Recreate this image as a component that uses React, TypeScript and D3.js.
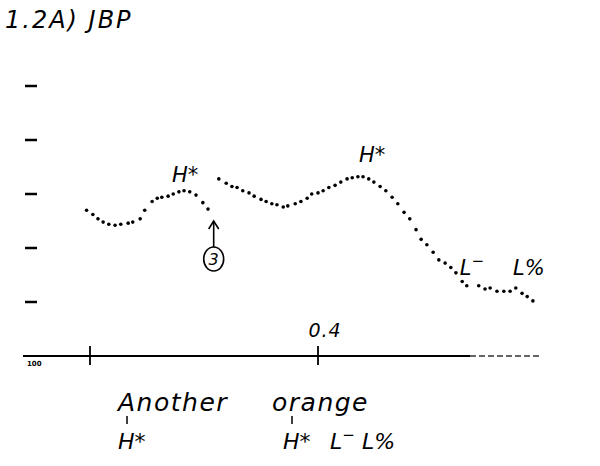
import React, { useEffect, useRef } from "react";
import * as d3 from "d3";

// pitch track (time in s, f0 in Hz)
const seg1Time = [-0.006, 0.005, 0.014, 0.023, 0.033, 0.044, 0.054, 0.067, 0.075, 0.088, 0.096, 0.109, 0.118, 0.126, 0.137, 0.146, 0.156, 0.165, 0.175, 0.186, 0.198, 0.207];
const seg1Hz = [235, 231, 227, 224, 222, 221, 222, 223, 224, 227, 235, 243, 246, 247, 248, 250, 252, 253, 252, 249, 242, 236];

const seg2Time = [0.226, 0.239, 0.249, 0.258, 0.268, 0.279, 0.288, 0.3, 0.309, 0.319, 0.328, 0.339, 0.347, 0.36, 0.37, 0.381, 0.389, 0.4, 0.409, 0.419, 0.43, 0.44, 0.451, 0.46, 0.47, 0.479, 0.489, 0.498, 0.509, 0.519, 0.53, 0.54, 0.551, 0.561, 0.572, 0.581, 0.591, 0.602, 0.612, 0.623, 0.633, 0.642, 0.653, 0.661];
const seg2Hz = [264, 260, 257, 256, 253, 251, 248, 245, 243, 241, 240, 238, 239, 241, 243, 246, 250, 251, 253, 256, 258, 261, 264, 265, 266, 266, 264, 261, 257, 253, 247, 241, 233, 227, 217, 208, 203, 196, 189, 186, 182, 177, 169, 165];

const seg3Time = [0.682, 0.693, 0.702, 0.714, 0.726, 0.737, 0.747, 0.758, 0.767, 0.777];
const seg3Hz = [165, 162, 163, 160, 160, 160, 163, 158, 155, 151];

const yTicks = [150, 200, 250, 300, 350];
const xTicks = [0, 0.4];
const xTickLabels = ["", "0.4"];

// tone labels placed over the track (time, Hz)
const toneText = ["H*", "H*", "L", "L%"];
const toneTime = [0.167, 0.495, 0.67, 0.77];
const toneHz = [261, 280, 175, 175];

const words = ["Another", "orange"];
const wordX = [118, 272];
const tierText = ["H*", "H*", "L", "L%"];
const tierX = [118, 283, 330, 362];

const App: React.FC = () => {
  const svgRef = useRef<SVGSVGElement | null>(null);

  useEffect(() => {
    if (!svgRef.current) return;
    const svg = d3.select(svgRef.current);
    svg.selectAll("*").remove();

    const x = d3.scaleLinear().domain([0, 0.4]).range([90, 318]);
    const y = d3.scaleLinear().domain([100, 350]).range([356, 86]);
    const hand = "'DejaVu Sans', sans-serif";

    svg.append("rect").attr("width", 600).attr("height", 466).attr("fill", "#fff");

    svg
      .append("text")
      .attr("x", 5)
      .attr("y", 28)
      .attr("font-family", hand)
      .attr("font-style", "italic")
      .attr("font-size", 24)
      .attr("letter-spacing", 2)
      .text("1.2A) JBP");

    // pitch ticks
    svg
      .selectAll(".yt")
      .data(yTicks)
      .enter()
      .append("line")
      .attr("x1", 25)
      .attr("x2", 37)
      .attr("y1", (d) => y(d))
      .attr("y2", (d) => y(d))
      .attr("stroke", "#000")
      .attr("stroke-width", 2.5);

    svg
      .append("text")
      .attr("x", 27)
      .attr("y", y(100) + 10)
      .attr("font-family", hand)
      .attr("font-weight", "bold")
      .attr("font-size", 7)
      .text("100");

    // time axis
    svg
      .append("line")
      .attr("x1", 23)
      .attr("x2", 470)
      .attr("y1", y(100))
      .attr("y2", y(100))
      .attr("stroke", "#000")
      .attr("stroke-width", 2);
    svg
      .append("line")
      .attr("x1", 470)
      .attr("x2", 542)
      .attr("y1", y(100))
      .attr("y2", y(100))
      .attr("stroke", "#333")
      .attr("stroke-width", 1.5)
      .attr("stroke-dasharray", "6,3");

    svg
      .selectAll(".xt")
      .data(xTicks)
      .enter()
      .append("line")
      .attr("x1", (d) => x(d))
      .attr("x2", (d) => x(d))
      .attr("y1", y(100) - 10)
      .attr("y2", y(100) + 9)
      .attr("stroke", "#000")
      .attr("stroke-width", 1.8);

    svg
      .selectAll(".xl")
      .data(xTicks)
      .enter()
      .append("text")
      .attr("x", (d) => x(d) + 7)
      .attr("y", y(100) - 19)
      .attr("text-anchor", "middle")
      .attr("font-family", hand)
      .attr("font-style", "italic")
      .attr("font-size", 19)
      .attr("letter-spacing", 1)
      .text((d, i) => xTickLabels[i]);

    // dotted pitch track
    const segs = [
      [seg1Time, seg1Hz],
      [seg2Time, seg2Hz],
      [seg3Time, seg3Hz],
    ];
    segs.forEach(([ts, hz]) => {
      svg
        .append("g")
        .selectAll("circle")
        .data(ts)
        .enter()
        .append("circle")
        .attr("cx", (d) => x(d))
        .attr("cy", (d, i) => y(hz[i]))
        .attr("r", 1.8)
        .attr("fill", "#000");
    });

    // tone labels on the track
    const tones = svg.append("g");
    toneText.forEach((t, i) => {
      const tx = tones
        .append("text")
        .attr("x", x(toneTime[i]))
        .attr("y", y(toneHz[i]))
        .attr("text-anchor", "middle")
        .attr("font-family", hand)
        .attr("font-style", "italic")
        .attr("font-size", 21)
        .text(t);
      if (t === "L") tx.append("tspan").attr("dy", -9).attr("font-size", 15).text("\u2212");
    });

    // circled 3 with arrow
    const cx = x(0.217);
    svg.append("ellipse").attr("cx", cx).attr("cy", 259).attr("rx", 10).attr("ry", 12).attr("fill", "none").attr("stroke", "#000").attr("stroke-width", 1.6);
    svg.append("text").attr("x", cx).attr("y", 265).attr("text-anchor", "middle").attr("font-family", hand).attr("font-style", "italic").attr("font-size", 16).text("3");
    svg.append("line").attr("x1", cx).attr("x2", cx).attr("y1", 247).attr("y2", 221).attr("stroke", "#000").attr("stroke-width", 1.6);
    svg.append("path").attr("d", `M${cx - 5},${229} L${cx},${221} L${cx + 5},${229}`).attr("fill", "none").attr("stroke", "#000").attr("stroke-width", 1.6);

    // words and tone tier
    words.forEach((w, i) => {
      svg
        .append("text")
        .attr("x", wordX[i])
        .attr("y", 411)
        .attr("font-family", hand)
        .attr("font-style", "italic")
        .attr("font-size", 25)
        .attr("letter-spacing", 1.5)
        .text(w);
    });
    tierText.forEach((t, i) => {
      const tx = svg
        .append("text")
        .attr("x", tierX[i])
        .attr("y", 449)
        .attr("font-family", hand)
        .attr("font-style", "italic")
        .attr("font-size", 22)
        .text(t);
      if (t === "L") tx.append("tspan").attr("dy", -9).attr("font-size", 15).text("\u2212");
      if (t === "H*") {
        svg
          .append("line")
          .attr("x1", tierX[i] + 9)
          .attr("x2", tierX[i] + 9)
          .attr("y1", 416)
          .attr("y2", 424)
          .attr("stroke", "#000")
          .attr("stroke-width", 1.5);
      }
    });
  }, []);

  return (
    <svg
      ref={svgRef}
      width={600}
      height={466}
      style={{ position: "absolute", left: 0, top: 0 }}
    ></svg>
  );
};

export default App;
